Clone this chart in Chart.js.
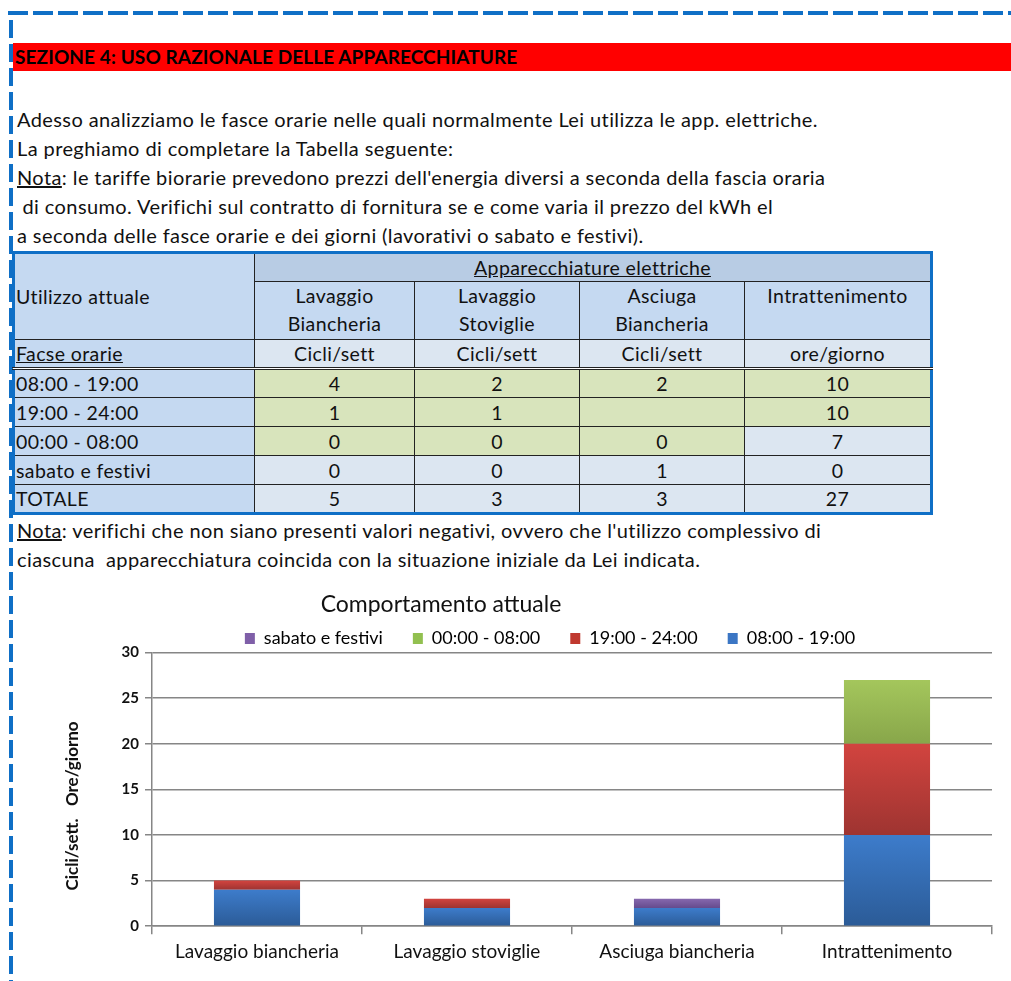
<!DOCTYPE html>
<html><head><meta charset="utf-8">
<script src="https://cdn.jsdelivr.net/npm/chart.js@4.4.1/dist/chart.umd.min.js"></script>
<style>
html,body{margin:0;padding:0;background:#fff;}
body{width:1011px;height:981px;position:relative;overflow:hidden;font-family:Lato,"Open Sans",sans-serif;color:#111;}
.dtop{position:absolute;left:8px;top:11px;width:1003px;height:4px;background:repeating-linear-gradient(90deg,#0f6fc6 0 20px,transparent 20px 25px);}
.dleft{position:absolute;left:9px;top:20px;width:4px;height:961px;background:repeating-linear-gradient(180deg,#0f6fc6 0 18px,transparent 18px 24px);}
.bar{position:absolute;left:13px;top:43px;right:0;height:28px;background:#ff0000;font-weight:bold;font-size:19px;letter-spacing:0.1px;line-height:28px;padding-left:2px;color:#000;}
.line{position:absolute;left:17px;height:29px;line-height:29px;font-size:20px;letter-spacing:0.4px;white-space:pre;}
table{position:absolute;left:12px;top:251px;border-collapse:collapse;table-layout:fixed;font-size:19.5px;letter-spacing:0.4px;border:3px solid #0f6fc6;}
td{border:1.5px solid #222;padding:0 1px;text-align:center;white-space:nowrap;overflow:hidden;}
td.l{text-align:left;padding-left:1px;}
#wrap{position:absolute;left:40px;top:585px;width:971px;height:396px;}
</style></head><body>
<div class="dtop"></div>
<div class="dleft"></div>
<div class="bar">SEZIONE 4: USO RAZIONALE DELLE APPARECCHIATURE</div>
<div id="text"></div>
<table id="tab"></table>
<div id="wrap"><canvas id="c"></canvas></div>
<script>
// ---- data ----
const categories = ['Lavaggio biancheria','Lavaggio stoviglie','Asciuga biancheria','Intrattenimento'];
const tableHeads = ['Lavaggio<br>Biancheria','Lavaggio<br>Stoviglie','Asciuga<br>Biancheria','Intrattenimento'];
const units = ['Cicli/sett','Cicli/sett','Cicli/sett','ore/giorno'];
const slotNames = ['08:00 - 19:00','19:00 - 24:00','00:00 - 08:00','sabato e festivi'];
const s0819 = [4,2,2,10];
const s1924 = [1,1,null,10];
const s0008 = [0,0,0,7];
const sabato = [0,0,1,0];
const yTicks = [0,5,10,15,20,25,30];
const series = [s0819,s1924,s0008,sabato];

// ---- text ----
const lines = [
 'Adesso analizziamo le fasce orarie nelle quali normalmente Lei utilizza le app. elettriche.',
 'La preghiamo di completare la Tabella seguente:',
 '<u>Nota</u>: le tariffe biorarie prevedono prezzi dell\'energia diversi a seconda della fascia oraria',
 ' di consumo. Verifichi sul contratto di fornitura se e come varia il prezzo del kWh el',
 'a seconda delle fasce orarie e dei giorni (lavorativi o sabato e festivi).'
];
const tx = document.getElementById('text');
lines.forEach((s,i)=>{const d=document.createElement('div');d.className='line';d.style.top=(105+i*29)+'px';d.innerHTML=s;tx.appendChild(d);});
['<u>Nota</u>: verifichi che non siano presenti valori negativi, ovvero che l\'utilizzo complessivo di',
 'ciascuna  apparecchiatura coincida con la situazione iniziale da Lei indicata.'].forEach((s,i)=>{
 const d=document.createElement('div');d.className='line';d.style.top=(516+i*29)+'px';d.innerHTML=s;tx.appendChild(d);});

// ---- table ----
const G='#d8e4bc', LB='#dce6f1', MB='#c5d9f1', DB='#b8cce4';
const widths=[241,160,165,165,187];
let h='<colgroup>'+widths.map(w=>'<col style="width:'+w+'px">').join('')+'</colgroup>';
h+='<tr style="height:29px"><td class="l" rowspan="2" style="background:'+MB+'">Utilizzo attuale</td><td colspan="4" style="background:'+DB+'"><u>Apparecchiature elettriche</u></td></tr>';
h+='<tr style="height:58px">'+tableHeads.map(t=>'<td style="background:'+MB+';line-height:28px;vertical-align:top">'+t+'</td>').join('')+'</tr>';
h+='<tr style="height:29px"><td class="l" style="background:'+MB+';border-bottom:3px double #222"><u>Facse orarie</u></td>'+units.map(u=>'<td style="background:'+LB+';border-bottom:3px double #222">'+u+'</td>').join('')+'</tr>';
const greenMask=[[1,1,1,1],[1,1,1,1],[1,1,1,0],[0,0,0,0]];
series.forEach((s,r)=>{
 h+='<tr style="height:29px"><td class="l" style="background:'+MB+'">'+slotNames[r]+'</td>'+s.map((v,c)=>'<td style="background:'+(greenMask[r][c]?G:LB)+'">'+(v===null?'':v)+'</td>').join('')+'</tr>';
});
const tot=categories.map((_,c)=>series.reduce((a,s)=>a+(s[c]||0),0));
h+='<tr style="height:29px"><td class="l" style="background:'+MB+'">TOTALE</td>'+tot.map(v=>'<td style="background:'+LB+'">'+v+'</td>').join('')+'</tr>';
document.getElementById('tab').innerHTML=h;

// ---- chart ----
function grad(c1,c2,ds){return (ctx)=>{
  if(ctx.type!=='data') return c1;
  const ch=ctx.chart, y=ch.scales.y; if(!y) return c1;
  const i=ctx.dataIndex; let base=0; for(let k=0;k<ds;k++) base+=(series[k][i]||0);
  const v=series[ds][i]||0;
  const t=y.getPixelForValue(base+v), b=y.getPixelForValue(base);
  if(!isFinite(t)||!isFinite(b)||t===b) return c1;
  const g=ch.ctx.createLinearGradient(0,t,0,b); g.addColorStop(0,c1); g.addColorStop(1,c2); return g;
};}
const cols=[['#3d7ccb','#2b5b97','#3b76c4'],['#d2443f','#9e3431','#c0392f'],['#a4c65c','#88a64a','#92c050'],['#8668ae','#664b8d','#7f5fa8']];
// shift title / legend like the spreadsheet chart object
const shiftBlocks={id:'shiftBlocks',afterLayout(chart){
  const t=chart.titleBlock; if(t){const dx=401-(t.left+t.right)/2; t.left+=dx; t.right+=dx;}
  const l=chart.legend; if(l){const dx=510-(l.left+l.right)/2; l.left+=dx; l.right+=dx; l.top+=5; l.bottom+=5;}
}};
new Chart(document.getElementById('c'),{
 type:'bar',
 data:{labels:categories,datasets:series.map((s,k)=>({label:slotNames[k],data:s,
   backgroundColor:grad(cols[k][0],cols[k][1],k),borderWidth:0}))},
 plugins:[shiftBlocks],
 options:{responsive:true,maintainAspectRatio:false,animation:false,
  devicePixelRatio:1,
  layout:{padding:{left:22,right:19,top:0,bottom:12}},
  datasets:{bar:{categoryPercentage:1,barPercentage:0.41}},
  plugins:{
   title:{display:true,text:'Comportamento attuale',color:'#111',font:{family:'Lato',size:23,weight:'normal'},padding:{top:6,bottom:-24}},
   legend:{reverse:true,labels:{boxWidth:10,boxHeight:11,color:'#111',font:{family:'Lato',size:18},padding:30,
     generateLabels:(chart)=>chart.data.datasets.map((d,i)=>({text:d.label,fillStyle:cols[i][2],strokeStyle:cols[i][2],lineWidth:0,datasetIndex:i}))}},
   tooltip:{enabled:false}
  },
  scales:{
   x:{stacked:true,grid:{display:true,drawOnChartArea:false,offset:true,tickLength:8,color:'#868686',lineWidth:1.5},
      border:{color:'#868686',width:1.5},
      ticks:{color:'#111',font:{family:'Lato',size:19},padding:6}},
   y:{stacked:true,min:0,max:30,
      afterBuildTicks:(sc)=>{sc.ticks=yTicks.map(v=>({value:v}));},
      afterFit:(sc)=>{sc.width=90;},
      grid:{color:'#868686',lineWidth:1.5,tickLength:7},border:{color:'#868686',width:1.5},
      ticks:{color:'#111',font:{family:'Lato',size:15,weight:'bold'},padding:6},
      title:{display:true,text:'Cicli/sett.   Ore/giorno        ',color:'#111',font:{family:'Lato',size:17,weight:'bold'},padding:{top:0,bottom:0}}}
  }
 }
});
</script>
</body></html>
